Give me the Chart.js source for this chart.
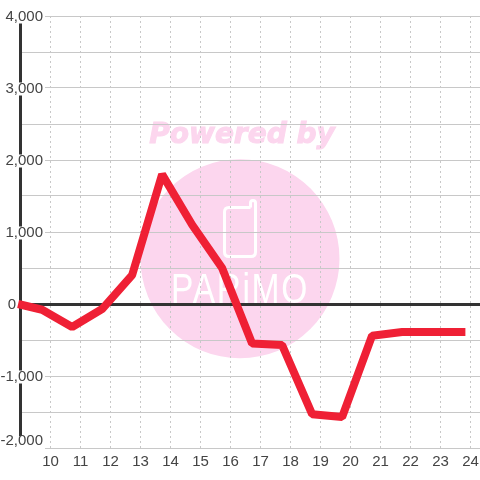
<!DOCTYPE html>
<html>
<head>
<meta charset="utf-8">
<style>
  html, body { margin: 0; padding: 0; background: #fff; }
  canvas { display: block; }
</style>
<script src="https://cdn.jsdelivr.net/npm/chart.js@4"></script>
</head>
<body>
<canvas id="myChart" width="480" height="480"></canvas>
<script>
  // values
  const hours = [8.92, 9.72, 10.72, 11.72, 12.72, 13.72, 14.72, 15.72, 16.72, 17.72, 18.72, 19.72, 20.72, 21.72, 22.72, 23.83];
  const balance = [0, -80, -320, -70, 400, 1800, 1100, 500, -550, -570, -1530, -1570, -440, -390, -390, -390];
  const xTicks = [10, 11, 12, 13, 14, 15, 16, 17, 18, 19, 20, 21, 22, 23, 24];
  const yTicks = [4000, 3500, 3000, 2500, 2000, 1500, 1000, 500, 0, -500, -1000, -1500, -2000];

  const textColor = '#444444';
  const isLabelled = v => v % 1000 === 0;

  // pink logo behind the chart
  const watermark = {
    id: 'watermark',
    beforeDraw(chart) {
      const ctx = chart.ctx;
      ctx.save();
      ctx.fillStyle = '#fcd6ee';
      ctx.beginPath();
      ctx.arc(240, 258.7, 99.5, 0, Math.PI * 2);
      ctx.fill();

      ctx.font = 'italic bold 28px "DejaVu Sans"';
      ctx.textAlign = 'center';
      ctx.textBaseline = 'middle';
      ctx.strokeStyle = '#fcd6ee';
      ctx.lineWidth = 1;
      ctx.fillText('Powered by', 242, 136);
      ctx.strokeText('Powered by', 242, 136);

      // phone
      ctx.strokeStyle = '#ffffff';
      ctx.lineWidth = 3;
      ctx.lineJoin = 'round';
      ctx.beginPath();
      ctx.moveTo(250.5, 207.5);
      ctx.lineTo(229, 207.5);
      ctx.quadraticCurveTo(224.5, 207.5, 224.5, 212);
      ctx.lineTo(224.5, 252);
      ctx.quadraticCurveTo(224.5, 256.5, 229, 256.5);
      ctx.lineTo(251, 256.5);
      ctx.quadraticCurveTo(255.5, 256.5, 255.5, 252);
      ctx.lineTo(255.5, 203);
      ctx.quadraticCurveTo(255.5, 200.5, 253, 200.5);
      ctx.quadraticCurveTo(250.5, 200.5, 250.5, 203);
      ctx.lineTo(250.5, 207.5);
      ctx.stroke();

      ctx.translate(240, 291);
      ctx.scale(0.8, 1);
      ctx.font = '42px "Liberation Sans"';
      ctx.fillStyle = '#ffffff';
      ctx.letterSpacing = '2px';
      ctx.fillText('PARiMO', 0, 0);
      ctx.restore();
    }
  };

  // labels sit over the plot, -2,000 above its line and 0 left of the axis
  const moveLabels = {
    id: 'moveLabels',
    beforeDraw(chart) {
      chart.scales.y.getLabelItems().forEach(item => {
        if (item.moved) return;
        item.moved = true;
        item.options.translation[0] = item.label === '0' ? 16 : 43;
        item.options.translation[1] += 1;
        if (item.label === '-2,000') {
          item.options.translation[1] -= 8;
          item.options.backdrop.top = -5;
          item.options.backdrop.height = 13;
        }
      });
    }
  };

  new Chart(document.getElementById('myChart'), {
    type: 'line',
    data: {
      datasets: [{
        data: hours.map((h, i) => ({ x: h, y: balance[i] })),
        borderColor: '#ef2035',
        borderWidth: 8,
        borderJoinStyle: 'bevel',
        pointRadius: 0,
        tension: 0,
        clip: false
      }]
    },
    options: {
      responsive: false,
      animation: false,
      layout: { padding: { left: 20, top: 16, right: 0, bottom: 0 } },
      plugins: { legend: { display: false }, tooltip: { enabled: false } },
      scales: {
        x: {
          type: 'linear',
          min: 8.983,
          max: 24.317,
          afterBuildTicks: scale => { scale.ticks = xTicks.map(v => ({ value: v })); },
          afterFit: scale => { scale.paddingLeft = 0; scale.paddingRight = 0; scale.height = 32; },
          border: { display: false, dash: [2, 3] },
          grid: { color: '#c8c8c8', lineWidth: 1, drawTicks: false },
          ticks: {
            autoSkip: false,
            maxRotation: 0,
            padding: 5,
            color: textColor,
            font: { family: '"Liberation Sans"', size: 15 },
            callback: v => String(v)
          }
        },
        y: {
          min: -2000,
          max: 4000,
          afterBuildTicks: scale => { scale.ticks = yTicks.map(v => ({ value: v })); },
          afterFit: scale => { scale.width = 0; },
          border: { color: '#333333', width: 3 },
          grid: {
            drawTicks: false,
            color: c => (c.tick.value === 0 ? '#333333' : '#c8c8c8'),
            lineWidth: c => (c.tick.value === 0 ? 3 : 1)
          },
          ticks: {
            autoSkip: false,
            mirror: true,
            crossAlign: 'far',
            color: textColor,
            font: { family: '"Liberation Sans"', size: 15, lineHeight: 1 },
            showLabelBackdrop: c => isLabelled(c.tick.value) && c.tick.value !== 0,
            backdropColor: '#ffffff',
            backdropPadding: { top: -1, bottom: -1, left: 2, right: 2 },
            callback: v => (isLabelled(v) ? v.toLocaleString('en-US') : '')
          }
        }
      }
    },
    plugins: [watermark, moveLabels]
  });
</script>
</body>
</html>
